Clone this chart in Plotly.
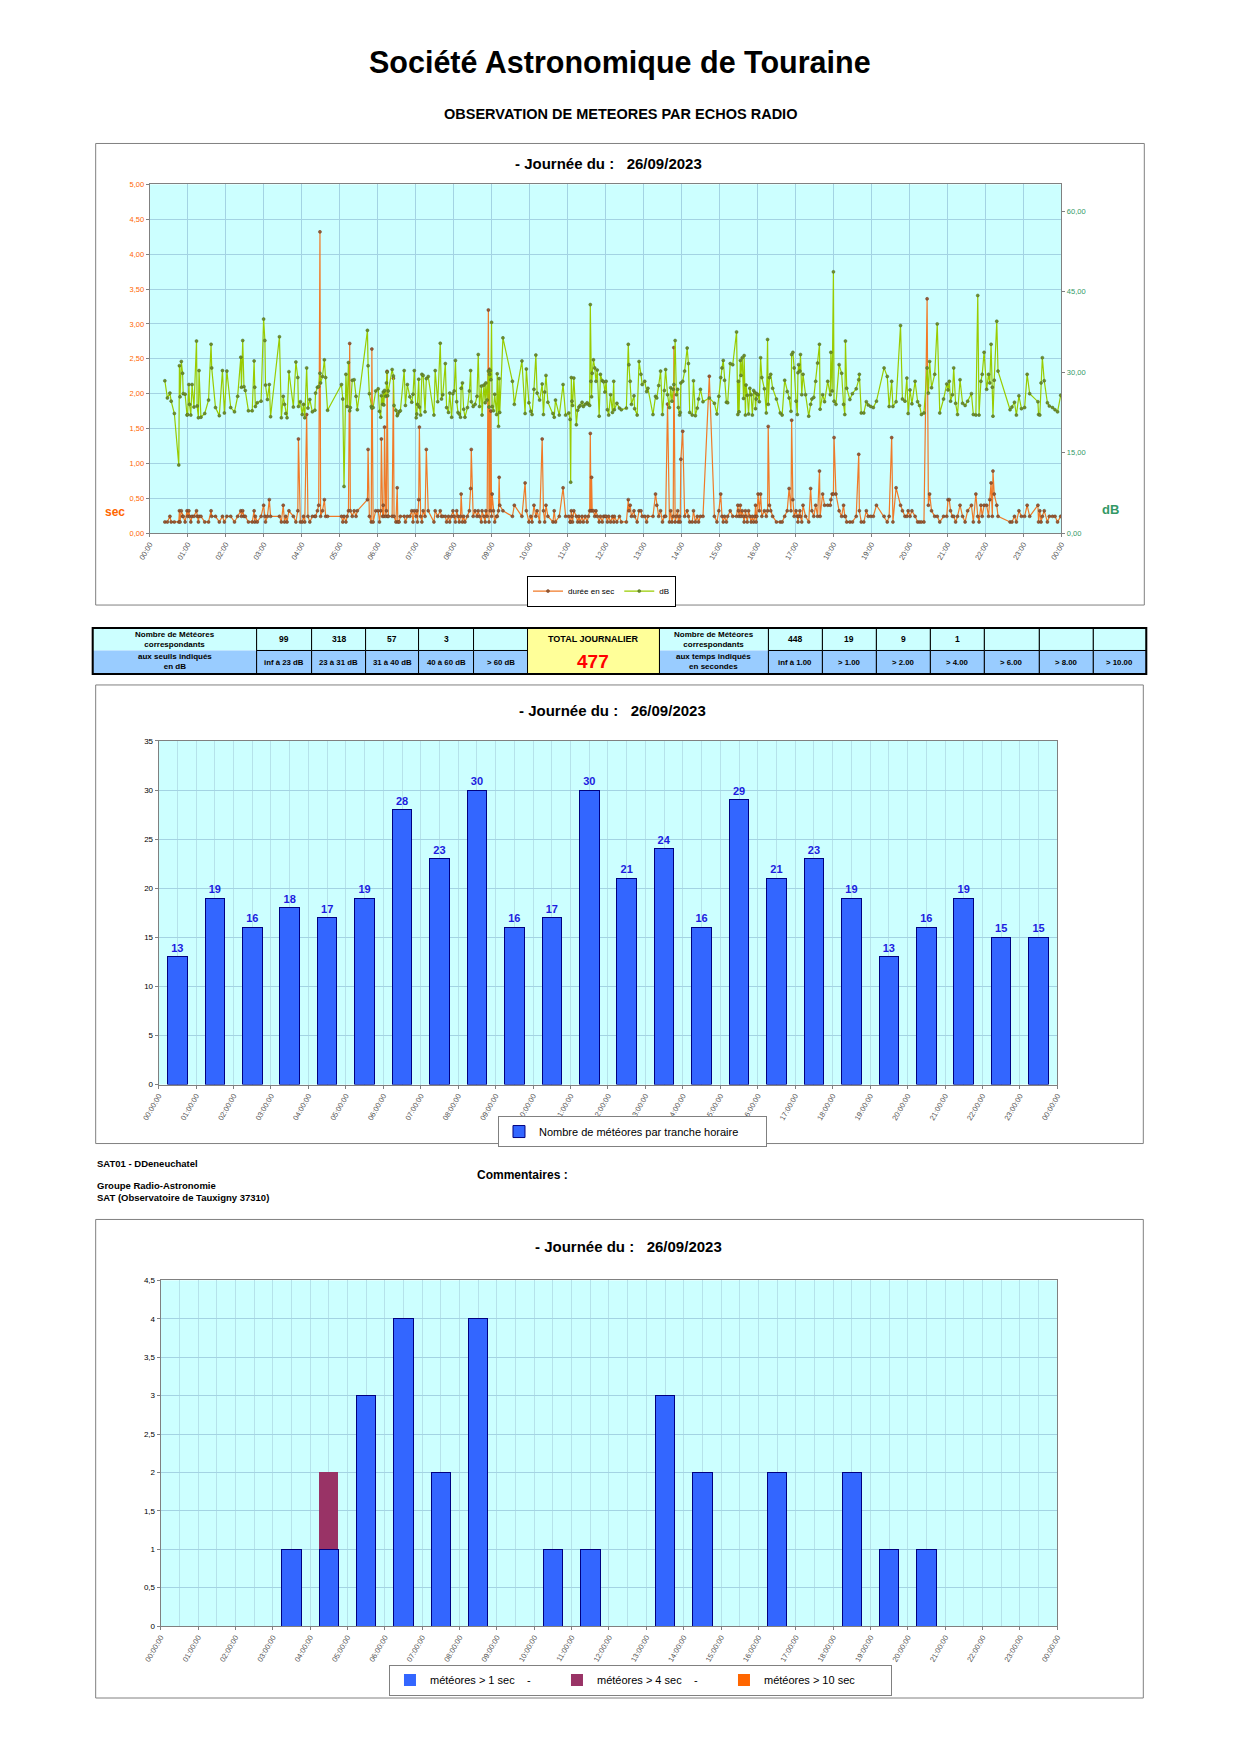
import plotly.graph_objects as go
import pandas as pd

# ------------------------------------------------------------------ DATA
DAY = "2023-09-26"

# individual meteor echoes (time, duration in s, signal in dB)
meteor_times = [
    "00:24","00:28","00:32","00:34","00:39","00:46","00:47","00:48","00:50","00:52","00:53","00:56","00:59",
    "01:00","01:02","01:03","01:05","01:07","01:10","01:14","01:15","01:17","01:18","01:21","01:27","01:33","01:37","01:38","01:44","01:50","01:55","01:58",
    "02:02","02:08","02:14","02:19","02:24","02:25","02:27","02:29","02:31","02:36","02:42","02:45","02:46","02:47","02:50","02:56",
    "03:00","03:02","03:03","03:06","03:09","03:11","03:25","03:28","03:31","03:33","03:35","03:37","03:40","03:47","03:51","03:54","03:55","03:58",
    "04:01","04:03","04:05","04:08","04:10","04:13","04:17","04:21","04:22","04:25","04:27","04:29","04:30","04:33","04:36","04:38","04:41",
    "05:03","05:05","05:07","05:10","05:12","05:14","05:16","05:17","05:20","05:23","05:26","05:28","05:44","05:45","05:47","05:50","05:51","05:53","05:57",
    "06:01","06:03","06:05","06:06","06:08","06:09","06:10","06:11","06:13","06:14","06:15","06:16","06:17","06:23","06:25","06:26","06:29","06:31","06:32","06:34","06:36","06:42","06:44","06:47","06:51","06:54","06:56","06:58",
    "07:01","07:02","07:03","07:05","07:06","07:08","07:10","07:12","07:15","07:17","07:20","07:29","07:31","07:35","07:39","07:41","07:43","07:47","07:49","07:52","07:54","07:57","07:59",
    "08:01","08:03","08:05","08:07","08:09","08:11","08:12","08:14","08:16","08:18","08:22","08:25","08:27","08:28","08:31","08:34","08:37","08:39","08:41","08:44","08:45","08:48","08:50","08:51","08:53","08:55","08:56","08:57","08:58","08:59",
    "09:00","09:01","09:03","09:05","09:08","09:09","09:11","09:12","09:13","09:18","09:33","09:36","09:48","09:53","09:55","09:59",
    "10:02","10:04","10:07","10:10","10:12","10:16","10:20","10:22","10:24","10:26","10:29","10:37","10:39","10:41","10:47","10:53","10:57",
    "11:02","11:04","11:05","11:06","11:07","11:08","11:10","11:14","11:16","11:18","11:20","11:23","11:25","11:28","11:31","11:33","11:35","11:36","11:37","11:38","11:39","11:41","11:43","11:45","11:47","11:50","11:52","11:55","11:57","11:59",
    "12:01","12:03","12:05","12:08","12:11","12:13","12:14","12:18","12:22","12:25","12:33","12:36","12:37","12:39","12:41","12:45","12:46","12:50","12:53","12:56","12:58",
    "13:02","13:05","13:07","13:15","13:19","13:21","13:24","13:27","13:30","13:33","13:35","13:38","13:41","13:43","13:45","13:47","13:48","13:50","13:52","13:54","13:55","13:57","13:58","13:59",
    "14:02","14:05","14:09","14:11","14:13","14:17","14:19","14:22","14:25","14:27","14:30","14:34","14:44","14:52","14:56","14:59",
    "15:02","15:04","15:06","15:08","15:11","15:13","15:17","15:21","15:27","15:29","15:30","15:31","15:33","15:34","15:36","15:38","15:39","15:41","15:42","15:44","15:46","15:48","15:50","15:52","15:54","15:56","15:57","15:58","15:59",
    "16:01","16:03","16:05","16:07","16:11","16:14","16:16","16:17","16:19","16:21","16:24","16:30","16:36","16:39","16:43","16:47","16:50","16:53","16:54","16:56","16:58",
    "17:01","17:03","17:04","17:05","17:07","17:08","17:10","17:12","17:16","17:21","17:24","17:26","17:29","17:32","17:35","17:38","17:39","17:43","17:46","17:51","17:55","17:56","17:58",
    "18:00","18:01","18:04","18:09","18:13","18:16","18:18","18:19","18:21","18:26","18:30","18:36","18:40","18:41","18:44","18:48","18:52","18:55","18:59",
    "19:03","19:08","19:20","19:25","19:28","19:32","19:34","19:39","19:46","19:49","19:53","19:56","19:58",
    "20:01","20:04","20:09","20:13","20:16","20:19","20:23","20:28","20:30","20:32","20:35","20:40","20:44","20:48","20:54","20:59",
    "21:01","21:03","21:05","21:08","21:10","21:13","21:16","21:20","21:24","21:28","21:32","21:38","21:41","21:45","21:48","21:50","21:53","21:55","21:58",
    "22:02","22:05","22:07","22:09","22:11","22:12","22:14","22:18","22:20","22:39","22:42","22:46","22:49","22:53","22:57",
    "23:02","23:06","23:10","23:23","23:24","23:26","23:28","23:30","23:33","23:38","23:41","23:46","23:50","23:54","23:59",
]

meteor_durations = [
    0.16,0.16,0.24,0.16,0.16,0.16,0.32,0.16,0.32,0.24,0.24,0.16,0.32,
    0.24,0.32,0.24,0.16,0.24,0.24,0.32,0.24,0.16,0.24,0.24,0.16,0.16,0.32,0.24,0.24,0.16,0.24,0.16,
    0.24,0.24,0.16,0.24,0.32,0.24,0.32,0.24,0.24,0.16,0.16,0.32,0.16,0.24,0.16,0.24,
    0.40,0.24,0.16,0.24,0.48,0.24,0.24,0.16,0.40,0.16,0.24,0.16,0.32,0.24,0.16,0.32,1.35,0.16,
    0.16,0.24,0.16,1.70,0.24,0.16,0.24,0.24,0.24,0.32,0.40,4.32,0.24,0.32,0.48,0.24,0.24,
    0.24,0.16,0.24,0.16,0.24,0.32,2.72,0.32,0.24,0.32,0.24,0.32,0.48,1.20,0.24,0.16,2.64,0.16,0.32,
    0.32,0.16,0.32,1.35,0.24,0.40,0.24,1.52,0.24,0.32,2.32,0.24,0.24,0.24,2.22,0.24,0.16,0.65,0.16,0.16,0.24,0.24,0.16,0.24,0.24,0.32,0.16,0.32,
    0.24,0.32,0.16,0.48,1.52,0.24,0.16,0.32,0.24,1.20,0.32,0.16,0.32,0.24,0.32,0.24,0.24,0.24,0.16,0.24,0.16,0.24,0.32,
    0.24,0.16,0.32,0.24,0.16,0.24,0.56,0.16,0.24,0.16,0.24,0.32,0.64,1.20,0.24,0.32,0.24,0.32,0.24,0.16,0.32,0.24,0.16,0.32,0.24,3.20,0.16,2.35,0.32,1.75,
    0.24,0.56,0.32,0.16,0.24,0.24,0.32,0.80,0.40,0.32,0.24,0.40,0.24,0.72,0.32,0.16,
    0.24,0.16,0.40,0.24,0.32,0.16,1.35,0.32,0.16,0.40,0.24,0.16,0.32,0.16,0.24,0.65,0.24,
    0.24,0.16,0.16,0.32,0.24,0.16,0.32,0.24,0.16,0.24,0.16,0.24,0.16,0.24,0.16,0.24,0.32,1.43,0.32,0.80,0.32,0.32,0.24,0.32,0.24,0.16,0.24,0.16,0.24,0.24,
    0.24,0.16,0.24,0.16,0.24,0.16,0.24,0.16,0.24,0.16,0.16,0.48,0.32,0.40,0.24,0.32,0.24,0.16,0.32,0.32,0.24,
    0.24,0.16,0.24,0.24,0.56,0.40,0.24,0.32,0.16,0.24,0.24,1.85,0.16,0.32,0.16,0.24,2.66,0.16,0.24,0.32,0.16,0.24,0.16,1.06,
    1.46,0.24,0.32,0.24,0.16,0.16,0.32,0.16,0.24,0.16,0.24,0.24,2.25,0.24,0.16,0.32,
    0.56,0.24,0.16,0.24,0.16,0.24,0.32,0.24,0.24,0.40,0.32,0.24,0.40,0.24,0.32,0.24,0.16,0.32,0.24,0.16,0.32,0.24,0.16,0.24,0.16,0.24,0.40,0.16,0.24,
    0.56,0.32,0.56,0.24,0.32,0.24,0.32,1.53,0.40,0.32,0.24,0.16,0.16,0.16,0.24,0.32,0.64,0.32,1.62,0.48,0.24,
    0.32,0.24,0.16,0.24,0.32,0.24,0.16,0.40,0.24,0.16,0.64,0.32,0.24,0.40,0.24,0.89,0.24,0.56,0.40,0.40,0.40,0.48,0.56,
    0.56,1.37,0.56,0.32,0.24,0.40,0.24,0.24,0.16,0.16,0.16,0.24,1.13,0.32,0.16,0.16,0.32,0.24,0.24,
    0.24,0.40,0.24,0.16,0.24,1.37,0.16,0.65,0.40,0.32,0.24,0.24,0.32,
    0.24,0.32,0.24,0.16,0.16,0.16,0.16,3.36,0.40,0.56,0.32,0.24,0.24,0.16,0.24,0.24,
    0.48,0.48,0.32,0.24,0.24,0.16,0.24,0.40,0.24,0.16,0.32,0.40,0.16,0.56,0.24,0.16,0.40,0.24,0.40,
    0.40,0.24,0.48,0.72,0.24,0.89,0.56,0.40,0.24,0.16,0.16,0.24,0.16,0.32,0.24,
    0.24,0.40,0.24,0.40,0.16,0.32,0.16,0.24,0.32,0.16,0.24,0.24,0.24,0.16,0.24,
]

meteor_db = [
    28.4,25.2,26.1,24.6,22.3,12.7,31.2,25.4,32.0,29.8,26.0,25.9,22.0,
    22.1,27.7,24.0,22.0,27.7,23.5,35.8,23.7,21.5,30.3,21.6,22.3,24.8,35.2,30.8,23.4,21.9,30.3,22.4,
    30.2,23.4,22.6,25.5,32.8,27.2,35.9,27.3,26.6,22.8,22.8,32.1,27.2,23.6,24.3,24.6,
    39.9,35.9,27.6,24.9,27.7,21.7,36.6,21.5,25.5,24.0,22.3,21.5,30.1,23.5,31.9,29.0,23.6,24.5,
    22.1,24.0,21.5,30.8,23.3,24.9,22.6,22.9,26.1,27.2,27.3,29.8,28.0,29.2,32.3,29.0,22.9,
    27.7,25.0,8.7,29.6,23.6,31.8,22.8,23.4,28.5,28.6,25.5,23.0,37.8,31.2,26.0,23.6,23.3,23.4,26.5,
    26.9,22.7,21.6,25.6,24.0,26.3,23.9,26.6,25.5,28.0,30.0,25.6,26.5,30.5,29.3,23.8,22.9,21.9,22.2,22.6,22.8,30.3,23.8,27.7,25.4,24.4,25.9,30.3,
    21.5,22.2,24.0,28.7,23.5,22.0,29.6,29.4,22.6,28.8,29.2,22.0,30.3,24.5,35.4,25.0,25.8,31.6,23.4,22.5,26.1,21.6,26.0,
    26.5,32.2,24.5,22.5,22.2,21.6,27.0,28.0,23.1,21.6,23.4,26.5,30.3,24.5,23.6,24.0,25.5,33.3,23.6,27.4,22.0,27.6,24.3,28.0,24.8,30.2,23.5,29.6,30.3,28.6,
    39.3,23.6,22.8,25.9,22.1,29.7,19.9,28.8,22.5,36.4,28.3,24.0,32.1,22.3,30.6,24.3,
    22.7,22.1,26.8,33.2,26.1,24.8,27.8,22.1,26.3,29.4,24.4,22.3,21.6,24.8,22.0,27.7,22.0,
    22.4,21.2,9.5,29.0,24.6,23.8,28.9,20.2,22.9,23.5,23.8,24.4,23.6,24.0,24.3,24.0,23.8,42.6,28.3,25.4,29.8,32.3,30.8,28.3,30.4,21.8,29.6,28.4,28.2,26.3,
    28.3,23.0,22.0,25.8,22.5,28.3,23.0,24.2,23.3,23.0,23.3,35.2,31.4,28.3,24.0,25.6,23.2,22.0,32.0,29.6,27.7,
    28.3,26.4,27.0,22.1,25.5,25.2,27.5,30.2,22.1,26.6,30.5,25.8,23.4,27.1,24.6,26.8,27.7,35.9,25.8,26.8,23.4,22.0,22.5,28.0,
    28.3,30.2,34.5,31.6,22.5,22.0,28.4,21.9,23.3,25.0,26.8,24.5,25.2,24.2,22.2,25.5,
    29.0,30.8,32.2,28.5,24.4,24.3,31.6,31.4,37.5,22.1,28.3,22.6,32.2,29.4,32.7,25.1,33.1,22.0,27.6,25.7,22.2,27.0,25.8,22.0,26.6,26.2,23.2,25.0,26.0,
    25.8,24.5,32.7,29.0,26.9,22.4,36.1,24.0,29.0,29.6,27.0,25.0,22.4,22.0,28.5,26.4,25.2,22.7,33.3,33.7,30.8,
    24.6,22.1,29.9,31.4,30.2,33.3,25.8,29.6,25.8,21.8,24.0,25.0,25.3,28.3,31.7,35.2,23.1,25.8,24.5,28.3,25.8,33.7,26.5,
    48.7,24.6,24.0,31.4,29.8,24.0,22.1,35.8,27.0,24.9,26.0,26.9,28.6,29.6,22.4,22.4,24.5,23.9,23.6,
    23.4,24.6,30.8,29.2,23.6,28.3,23.6,24.5,38.7,25.0,24.6,28.9,22.3,
    26.7,24.1,28.3,24.5,23.8,22.1,22.4,30.8,26.1,32.0,27.1,29.6,39.0,22.4,25.0,27.8,
    26.7,28.3,24.6,25.8,30.8,24.2,22.1,28.6,24.2,23.8,24.6,26.0,22.1,22.0,44.3,22.0,28.3,29.6,33.7,
    26.8,29.6,28.0,35.2,27.2,21.8,28.5,39.5,30.2,23.0,23.5,24.4,22.0,25.6,23.2,
    23.4,29.6,26.0,24.5,22.1,22.0,28.0,32.7,28.4,24.3,23.7,23.4,23.0,22.6,25.7,
]

hour_slots = ["00:00", "01:00", "02:00", "03:00", "04:00", "05:00", "06:00", "07:00",
              "08:00", "09:00", "10:00", "11:00", "12:00", "13:00", "14:00", "15:00",
              "16:00", "17:00", "18:00", "19:00", "20:00", "21:00", "22:00", "23:00"]
hourly_counts = [13, 19, 16, 18, 17, 19, 28, 23, 30, 16, 17, 30,
                 21, 24, 16, 29, 21, 23, 19, 13, 16, 19, 15, 15]
over_1s = [0, 0, 0, 1, 1, 3, 4, 2, 4, 0, 1, 1, 0, 3, 2, 0, 2, 0, 2, 1, 1, 0, 0, 0]
over_4s = [0, 0, 0, 0, 1, 0, 0, 0, 0, 0, 0, 0, 0, 0, 0, 0, 0, 0, 0, 0, 0, 0, 0, 0]
over_10s = [0, 0, 0, 0, 0, 0, 0, 0, 0, 0, 0, 0, 0, 0, 0, 0, 0, 0, 0, 0, 0, 0, 0, 0]

db_counts = ["99", "318", "57", "3", ""]
db_thresholds = ["inf à 23 dB", "23 à 31 dB", "31 à 40 dB", "40 à 60 dB", "> 60 dB"]
dur_counts = ["448", "19", "9", "1", "", "", ""]
dur_thresholds = ["inf à 1.00", "> 1.00", "> 2.00", "> 4.00", "> 6.00", "> 8.00", "> 10.00"]
total_daily = "477"

# ------------------------------------------------------------------ LAYOUT HELPERS
W, H = 1240, 1754
FONT = "Liberation Sans, Arial, Helvetica, sans-serif"

# the photographed page lands slightly shifted/compressed; these factors map
# target page pixels to figure paper coordinates
SX, OX = 0.9826, 16.3
SY, OY = 0.9958, 2.4


def px(x):
    return ((x - OX) / SX) / W


def py(y):
    return 1 - ((y - OY) / SY) / H


t = pd.to_datetime([f"{DAY} {s}" for s in meteor_times])
slots = pd.to_datetime([f"{DAY} {s}" for s in hour_slots])
x_range = [pd.Timestamp(f"{DAY} 00:00"), pd.Timestamp(f"{DAY} 00:00") + pd.Timedelta(hours=24)]
HOUR_MS = 3600000

GRID = "#A3D3E3"
GRID_LIGHT = "#B5E2EA"
AXLINE = "#808080"

fig = go.Figure()

# ---- top chart : durations & dB
fig.add_trace(go.Scatter(
    x=t, y=meteor_durations, xaxis="x", yaxis="y", name="durée en sec",
    mode="lines+markers", legend="legend",
    line=dict(color="#F07A28", width=1.2),
    marker=dict(size=3, color="#9A5A34", line=dict(color="#6B3A1E", width=0.5)),
))
fig.add_trace(go.Scatter(
    x=t, y=meteor_db, xaxis="x", yaxis="y2", name="dB",
    mode="lines+markers", legend="legend",
    line=dict(color="#99CC00", width=1.2),
    marker=dict(size=3, color="#6E8F2A", line=dict(color="#4D6B1E", width=0.5)),
))

# ---- middle chart : meteors per hour
fig.add_trace(go.Bar(
    x=slots, y=hourly_counts, xaxis="x2", yaxis="y3",
    xperiod=HOUR_MS, xperiodalignment="middle", width=0.52 * HOUR_MS,
    name="Nombre de météores par tranche horaire", legend="legend2",
    marker=dict(color="#3366FF", line=dict(color="#000080", width=1)),
    texttemplate="<b>%{y}</b>", textposition="outside",
    textfont=dict(family=FONT, size=11, color="#1C1CE0"), cliponaxis=False,
))

# ---- bottom chart : long meteors (stacked)
for vals, name, col, lw in [(over_1s, "météores > 1 sec\u00a0\u00a0\u00a0\u00a0-", "#3366FF", 1),
                            (over_4s, "météores > 4 sec\u00a0\u00a0\u00a0\u00a0-", "#993366", 0),
                            (over_10s, "météores > 10 sec", "#FF6600", 0)]:
    fig.add_trace(go.Bar(
        x=slots, y=vals, xaxis="x3", yaxis="y4",
        xperiod=HOUR_MS, xperiodalignment="middle", width=0.52 * HOUR_MS,
        name=name, legend="legend3",
        marker=dict(color=col, line=dict(color="#000080",
                                         width=[lw if v > 0 else 0 for v in vals])),
    ))

axis_base = dict(showline=True, linecolor=AXLINE, linewidth=1, mirror=True,
                 ticks="outside", ticklen=3, tickcolor=AXLINE, zeroline=False,
                 gridcolor=GRID, gridwidth=0.8)

fig.update_layout(
    width=W, height=H, margin=dict(l=0, r=0, t=0, b=0, pad=0), autosize=False,
    paper_bgcolor="white", plot_bgcolor="#CCFFFF",
    font=dict(family=FONT, color="black"),
    separators=",.",
    barmode="stack",
    showlegend=True,
    xaxis=dict(axis_base, domain=[px(149), px(1061)], anchor="y", type="date",
               range=x_range, dtick=HOUR_MS, tickformat="%H:%M", tickangle=-60,
               tickfont=dict(size=7.5, color="#555555"), showgrid=True),
    yaxis=dict(axis_base, domain=[py(532), py(183)], anchor="x", range=[0, 5], dtick=0.5,
               tickformat=".2f", tickfont=dict(size=7.5, color="#FF6600"), showgrid=True),
    yaxis2=dict(overlaying="y", side="right", anchor="x", range=[0, 65],
                tickvals=[0, 15, 30, 45, 60], tickformat=".2f", showgrid=False,
                showline=False, zeroline=False, ticks="outside", ticklen=3, tickcolor=AXLINE,
                tickfont=dict(size=7.5, color="#339966")),
    xaxis2=dict(axis_base, domain=[px(158), px(1057)], anchor="y3", type="date",
                range=x_range, dtick=HOUR_MS, tickformat="%H:%M:%S", tickangle=-60,
                tickfont=dict(size=7.5, color="#555555"), showgrid=True, gridcolor=GRID_LIGHT,
                minor=dict(dtick=HOUR_MS / 2, showgrid=True, gridcolor=GRID_LIGHT, gridwidth=0.8)),
    yaxis3=dict(axis_base, domain=[py(1084), py(740)], anchor="x2", range=[0, 35], dtick=5,
                tickfont=dict(size=8, color="black"), showgrid=True),
    xaxis3=dict(axis_base, domain=[px(160), px(1057)], anchor="y4", type="date",
                range=x_range, dtick=HOUR_MS, tickformat="%H:%M:%S", tickangle=-60,
                tickfont=dict(size=7.5, color="#555555"), showgrid=True, gridcolor=GRID_LIGHT,
                minor=dict(dtick=HOUR_MS / 2, showgrid=True, gridcolor=GRID_LIGHT, gridwidth=0.8)),
    yaxis4=dict(axis_base, domain=[py(1626), py(1280)], anchor="x3", range=[0, 4.5], dtick=0.5,
                tickfont=dict(size=8, color="black"), showgrid=True),
    legend=dict(x=px(601), y=py(590), xanchor="center", yanchor="middle", orientation="h",
                bordercolor="black", borderwidth=1, bgcolor="white", itemwidth=30,
                font=dict(size=8, family=FONT, color="black")),
    legend2=dict(x=px(632), y=py(1131), xanchor="center", yanchor="middle", orientation="h",
                 bordercolor="#808080", borderwidth=1, bgcolor="white", itemwidth=30,
                 entrywidth=222, entrywidthmode="pixels",
                 font=dict(size=11, family=FONT, color="black")),
    legend3=dict(x=px(640), y=py(1680), xanchor="center", yanchor="middle", orientation="h",
                 bordercolor="#808080", borderwidth=1, bgcolor="white", itemwidth=30,
                 traceorder="normal", entrywidth=122, entrywidthmode="pixels",
                 font=dict(size=11, family=FONT, color="black")),
)

shapes = []
annotations = []


def text(x, y, s, size, color="black", bold=True, xanchor="center"):
    annotations.append(dict(
        x=px(x), y=py(y), xref="paper", yref="paper", showarrow=False,
        text=f"<b>{s}</b>" if bold else s, xanchor=xanchor, yanchor="middle",
        font=dict(family=FONT, size=size, color=color)))


def rect(x0, y0, x1, y1, fill="rgba(0,0,0,0)", line="#808080", lw=1, layer="above"):
    shapes.append(dict(type="rect", xref="paper", yref="paper",
                       x0=px(x0), x1=px(x1), y0=py(y1), y1=py(y0),
                       fillcolor=fill, line=dict(color=line, width=lw), layer=layer))


# page titles
text(620, 61, "Société Astronomique de Touraine", 30.5)
text(620, 113, "OBSERVATION DE METEORES PAR ECHOS RADIO", 14.5)

# chart frames & titles
date_title = "- Journée du :\u00a0\u00a0\u00a026/09/2023"
rect(95, 142, 1144, 604, lw=1, layer="below")
text(608, 162, date_title, 15)
text(114, 511, "sec", 12, color="#FF6600")
text(1110, 508, "dB", 13, color="#339966")

rect(95, 684, 1143, 1143, lw=1, layer="below")
text(612, 710, date_title, 15)

rect(95, 1219, 1143, 1698, lw=1, layer="below")
text(628, 1246, date_title, 15)

# ---- summary table
CYAN, BLUE, YELLOW = "#CCFFFF", "#99CCFF", "#FFFF99"
TOP, MID, BOT = 627, 649.5, 673
left_edges = [256, 311, 365, 418, 473, 527]
right_edges = [768, 822, 876, 930, 984, 1039, 1093, 1146]

rect(92, TOP, 256, MID, fill=CYAN, line=CYAN, lw=0)
rect(92, MID, 256, BOT, fill=BLUE, line=BLUE, lw=0)
rect(92, TOP, 256, BOT, line="black", lw=1)
text(174, 638, "Nombre de Météores<br>correspondants", 8)
text(174, 661, "aux seuils indiqués<br>en dB", 8)
for i in range(5):
    x0, x1 = left_edges[i], left_edges[i + 1]
    rect(x0, TOP, x1, MID, fill=CYAN, line="black", lw=1)
    rect(x0, MID, x1, BOT, fill=BLUE, line="black", lw=1)
    text((x0 + x1) / 2, (TOP + MID) / 2, db_counts[i], 8.5)
    text((x0 + x1) / 2, (MID + BOT) / 2, db_thresholds[i], 7.8)

rect(527, TOP, 659, BOT, fill=YELLOW, line="black", lw=1)
text(593, 638, "TOTAL JOURNALIER", 9)
text(593, 661, total_daily, 19, color="#FF0000")

rect(659, TOP, 768, MID, fill=CYAN, line=CYAN, lw=0)
rect(659, MID, 768, BOT, fill=BLUE, line=BLUE, lw=0)
rect(659, TOP, 768, BOT, line="black", lw=1)
text(713.5, 638, "Nombre de Météores<br>correspondants", 8)
text(713.5, 661, "aux temps indiqués<br>en secondes", 8)
for i in range(7):
    x0, x1 = right_edges[i], right_edges[i + 1]
    rect(x0, TOP, x1, MID, fill=CYAN, line="black", lw=1)
    rect(x0, MID, x1, BOT, fill=BLUE, line="black", lw=1)
    text((x0 + x1) / 2, (TOP + MID) / 2, dur_counts[i], 8.5)
    text((x0 + x1) / 2, (MID + BOT) / 2, dur_thresholds[i], 7.8)

rect(92, TOP, 1146, BOT, line="black", lw=2)

# ---- notes block
text(94, 1163, "SAT01 - DDeneuchatel", 9.5, xanchor="left")
text(522, 1174, "Commentaires :", 12)
text(94, 1185, "Groupe Radio-Astronomie", 9.5, xanchor="left")
text(94, 1197, "SAT (Observatoire de Tauxigny 37310)", 9.5, xanchor="left")

fig.update_layout(shapes=shapes, annotations=annotations)

fig.write_html("out.html", include_plotlyjs=True,
               config={"displayModeBar": False, "responsive": False},
               post_script="document.body.style.margin='0';document.documentElement.style.margin='0';document.body.style.overflow='hidden';")
